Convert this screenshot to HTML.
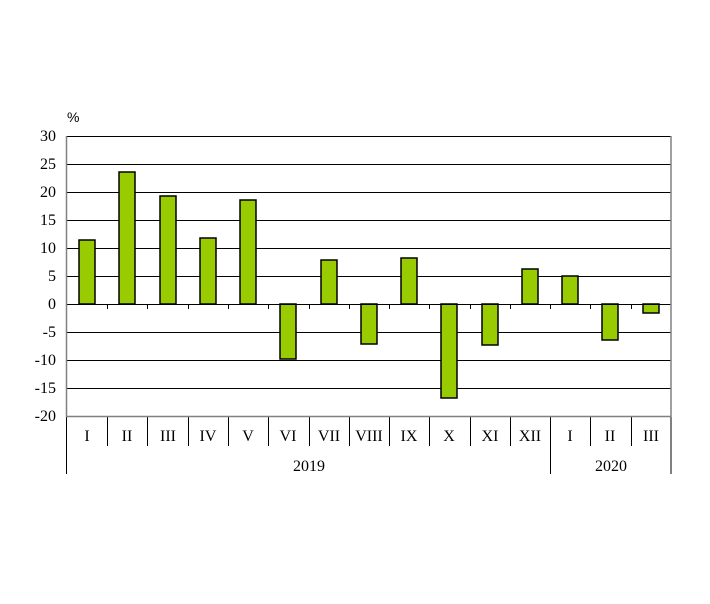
<!DOCTYPE html><html><head><style>body{margin:0;background:#fff}</style></head><body>
<svg width="710" height="599" xmlns="http://www.w3.org/2000/svg" font-family="Liberation Serif, serif" font-size="16">
<rect width="710" height="599" fill="#fff"/>
<g stroke="#000" stroke-width="1">
<line x1="67" x2="671" y1="136.5" y2="136.5"/><line x1="67" x2="671" y1="164.5" y2="164.5"/><line x1="67" x2="671" y1="192.5" y2="192.5"/><line x1="67" x2="671" y1="220.5" y2="220.5"/><line x1="67" x2="671" y1="248.5" y2="248.5"/><line x1="67" x2="671" y1="276.5" y2="276.5"/><line x1="67" x2="671" y1="332.5" y2="332.5"/><line x1="67" x2="671" y1="360.5" y2="360.5"/><line x1="67" x2="671" y1="388.5" y2="388.5"/>
</g>
<g fill="#99cc00" stroke="#000" stroke-width="1.5">
<rect x="79" y="240" width="16" height="64"/>
<rect x="119" y="172" width="16" height="132"/>
<rect x="160" y="196" width="16" height="108"/>
<rect x="200" y="238" width="16" height="66"/>
<rect x="240" y="200" width="16" height="104"/>
<rect x="280" y="304" width="16" height="55"/>
<rect x="321" y="260" width="16" height="44"/>
<rect x="361" y="304" width="16" height="40"/>
<rect x="401" y="258" width="16" height="46"/>
<rect x="441" y="304" width="16" height="94"/>
<rect x="482" y="304" width="16" height="41"/>
<rect x="522" y="269" width="16" height="35"/>
<rect x="562" y="276" width="16" height="28"/>
<rect x="602" y="304" width="16" height="36"/>
<rect x="643" y="304" width="16" height="9"/>
</g>
<line x1="67" x2="671" y1="304.5" y2="304.5" stroke="#000"/>
<g stroke="#000">
<line x1="107.5" x2="107.5" y1="304" y2="309"/><line x1="147.5" x2="147.5" y1="304" y2="309"/><line x1="188.5" x2="188.5" y1="304" y2="309"/><line x1="228.5" x2="228.5" y1="304" y2="309"/><line x1="268.5" x2="268.5" y1="304" y2="309"/><line x1="309.5" x2="309.5" y1="304" y2="309"/><line x1="349.5" x2="349.5" y1="304" y2="309"/><line x1="389.5" x2="389.5" y1="304" y2="309"/><line x1="429.5" x2="429.5" y1="304" y2="309"/><line x1="470.5" x2="470.5" y1="304" y2="309"/><line x1="510.5" x2="510.5" y1="304" y2="309"/><line x1="550.5" x2="550.5" y1="304" y2="309"/><line x1="590.5" x2="590.5" y1="304" y2="309"/><line x1="631.5" x2="631.5" y1="304" y2="309"/>
<line x1="107.5" x2="107.5" y1="416" y2="446"/><line x1="147.5" x2="147.5" y1="416" y2="446"/><line x1="188.5" x2="188.5" y1="416" y2="446"/><line x1="228.5" x2="228.5" y1="416" y2="446"/><line x1="268.5" x2="268.5" y1="416" y2="446"/><line x1="309.5" x2="309.5" y1="416" y2="446"/><line x1="349.5" x2="349.5" y1="416" y2="446"/><line x1="389.5" x2="389.5" y1="416" y2="446"/><line x1="429.5" x2="429.5" y1="416" y2="446"/><line x1="470.5" x2="470.5" y1="416" y2="446"/><line x1="510.5" x2="510.5" y1="416" y2="446"/><line x1="590.5" x2="590.5" y1="416" y2="446"/><line x1="631.5" x2="631.5" y1="416" y2="446"/>
<line x1="550.5" x2="550.5" y1="416" y2="474"/><line x1="671" x2="671" y1="416" y2="474"/><line x1="66.5" x2="66.5" y1="416" y2="474"/>
</g>
<path d="M66.5 136 V416.5 H671 V136" fill="none" stroke="#808080" stroke-width="1.5"/>
<g text-anchor="end">
<text x="56" y="141">30</text><text x="56" y="169">25</text><text x="56" y="197">20</text><text x="56" y="225">15</text><text x="56" y="253">10</text><text x="56" y="281">5</text><text x="56" y="309">0</text><text x="56" y="337">-5</text><text x="56" y="365">-10</text><text x="56" y="393">-15</text><text x="56" y="421">-20</text>
</g>
<text x="67" y="122" font-size="14" font-family="Liberation Sans, sans-serif">%</text>
<g text-anchor="middle">
<text x="87" y="441">I</text><text x="127" y="441">II</text><text x="168" y="441">III</text><text x="208" y="441">IV</text><text x="248" y="441">V</text><text x="288" y="441">VI</text><text x="329" y="441">VII</text><text x="369" y="441">VIII</text><text x="409" y="441">IX</text><text x="449" y="441">X</text><text x="490" y="441">XI</text><text x="530" y="441">XII</text><text x="570" y="441">I</text><text x="610" y="441">II</text><text x="651" y="441">III</text>
<text x="309" y="471">2019</text><text x="611" y="471">2020</text>
</g>
</svg>
</body></html>
